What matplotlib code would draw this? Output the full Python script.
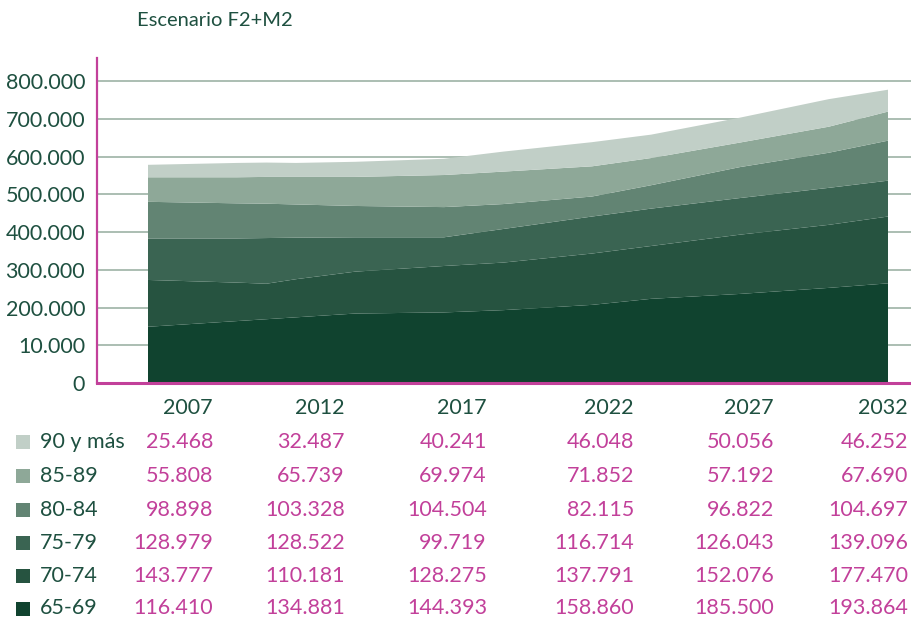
import matplotlib
matplotlib.use("Agg")
import matplotlib.pyplot as plt
from matplotlib.patches import Rectangle

plt.rcParams['font.family'] = ['Lato', 'DejaVu Sans']
plt.rcParams['font.weight'] = 'normal'

# ---- data (thousands of persons) ----
years = [2007, 2010, 2011, 2012, 2014, 2017, 2019, 2022, 2024, 2027, 2030, 2032]
a_65_69 = [149, 164, 169, 174, 184, 187, 193, 207, 223, 236, 252, 264]
a_70_74 = [124, 102, 94, 101, 111, 123, 126, 136, 140, 157, 167, 177]
a_75_79 = [110, 117, 121, 110, 91, 76, 89, 98, 99, 97, 98, 95]
a_80_84 = [97, 93, 91, 88, 83, 80, 66, 53, 62, 82, 93, 106]
a_85_89 = [65, 69, 71, 73, 77, 85, 86, 80, 72, 65, 69, 77]
a_90_mas = [33, 38, 38, 37, 40, 43, 53, 64, 62, 66, 73, 58]

# ---- table data ----
table_years = ["2007", "2012", "2017", "2022", "2027", "2032"]
groups = ["90 y más", "85-89", "80-84", "75-79", "70-74", "65-69"]
t_90_mas = [25468, 32487, 40241, 46048, 50056, 46252]
t_85_89 = [55808, 65739, 69974, 71852, 57192, 67690]
t_80_84 = [98898, 103328, 104504, 82115, 96822, 104697]
t_75_79 = [128979, 128522, 99719, 116714, 126043, 139096]
t_70_74 = [143777, 110181, 128275, 137791, 152076, 177470]
t_65_69 = [116410, 134881, 144393, 158860, 185500, 193864]

yticks = [0, 100000, 200000, 300000, 400000, 500000, 600000, 700000, 800000]
ytick_labels = ["0", "10.000", "200.000", "300.000", "400.000", "500.000",
                "600.000", "700.000", "800.000"]

title = "Escenario F2+M2"

# ---- styles ----
layer_colors = ["#10432f", "#265340", "#3a6452", "#628473", "#8ea898", "#c1cfc7"]
magenta = "#c2409a"
dkgreen = "#1e5040"
grid_color = "#9db3a6"
FS = 15.5

W, H = 912, 618
fig = plt.figure(figsize=(W / 100, H / 100), dpi=100)

def fx(px):
    return px / W

def fy(py):
    return 1 - py / H

ax_left, ax_right, ax_top, ax_bottom = 97, 912, 58, 383
ax = fig.add_axes([fx(ax_left), fy(ax_bottom), fx(ax_right - ax_left), (ax_bottom - ax_top) / H])

series = [a_65_69, a_70_74, a_75_79, a_80_84, a_85_89, a_90_mas]
series = [[v * 1000 for v in s] for s in series]
ax.stackplot(years, *series, colors=layer_colors, linewidth=0, zorder=3)

px_per_year = 29.6
ax.set_xlim(2007 - (148 - ax_left) / px_per_year, 2032 + (ax_right - 888) / px_per_year)
ax.set_ylim(0, 861000)

ax.set_yticks(yticks)
ax.set_yticklabels(ytick_labels, fontsize=FS, color=dkgreen)
ax.tick_params(axis='y', length=0, pad=8.5)
ax.set_xticks([])
for y in yticks[1:]:
    ax.axhline(y, color=grid_color, lw=1.2, zorder=1)

for s in ["top", "right"]:
    ax.spines[s].set_visible(False)
ax.spines["left"].set_color(magenta)
ax.spines["left"].set_linewidth(1.6)
ax.spines["bottom"].set_color(magenta)
ax.spines["bottom"].set_linewidth(2.2)
ax.spines["bottom"].set_zorder(5)

fig.text(fx(137), fy(20), title, fontsize=14.5, color=dkgreen, ha="left", va="center")

# ---- table ----
col_right = [213, 345, 487, 634, 774, 908]
row_y = [441.5, 476, 509.5, 543, 576, 608.5]
header_y = 408
for xr, lab in zip(col_right, table_years):
    fig.text(fx(xr), fy(header_y), lab, fontsize=FS, color=dkgreen, ha="right", va="center")

table_rows = [t_90_mas, t_85_89, t_80_84, t_75_79, t_70_74, t_65_69]
legend_colors = layer_colors[::-1]

def fmt(v):
    return f"{v:,}".replace(",", ".")

for ry, g, vals, col in zip(row_y, groups, table_rows, legend_colors):
    fig.patches.append(Rectangle((fx(16), fy(ry + 7)), fx(14), 14 / H,
                                 transform=fig.transFigure, facecolor=col,
                                 edgecolor="none", figure=fig))
    fig.text(fx(40), fy(ry), g, fontsize=FS, color=dkgreen, ha="left", va="center")
    for xr, v in zip(col_right, vals):
        fig.text(fx(xr), fy(ry), fmt(v), fontsize=FS, color=magenta, ha="right", va="center")

fig.savefig("out.png", dpi=100)
